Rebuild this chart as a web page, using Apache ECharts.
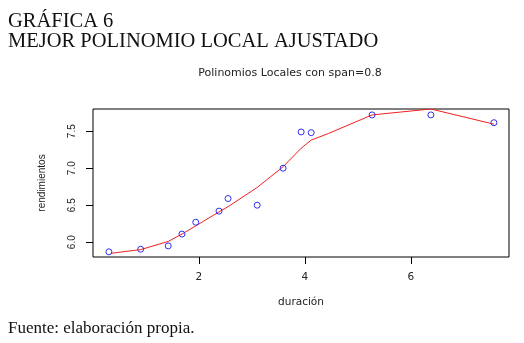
<!DOCTYPE html>
<html>
<head>
<meta charset="utf-8">
<script src="https://cdn.jsdelivr.net/npm/echarts@6/dist/echarts.min.js"></script>
<style type="text/css">
    html, body { margin: 0; padding: 0; background: #ffffff; }
    #grafica { width: 524px; height: 343px; }
</style>
</head>
<body>
<div id="grafica"></div>
<script type="text/javascript">
    // observaciones (duración, rendimientos)
    var duracion = [0.30, 0.90, 1.42, 1.68, 1.94, 2.38, 2.55, 3.10, 3.59, 3.93, 4.12, 5.27, 6.38, 7.57];
    var rendimientos = [5.87, 5.905, 5.95, 6.11, 6.27, 6.42, 6.59, 6.50, 7.00, 7.49, 7.48, 7.72, 7.72, 7.615];
    // curva del polinomio local (span = 0.8)
    var ajusteX = [0.34, 0.90, 1.42, 1.68, 1.94, 2.38, 2.55, 3.10, 3.59, 3.93, 4.12, 4.45, 5.27, 6.38, 7.57];
    var ajusteY = [5.85, 5.90, 6.01, 6.11, 6.22, 6.41, 6.48, 6.74, 7.02, 7.27, 7.38, 7.47, 7.72, 7.80, 7.595];
    var ticksX = [2, 4, 6];
    var ticksY = [6.0, 6.5, 7.0, 7.5];

    var puntos = [], curva = [];
    for (var i = 0; i < duracion.length; i++) {
        puntos.push([duracion[i], rendimientos[i]]);
    }
    for (var j = 0; j < ajusteX.length; j++) {
        curva.push([ajusteX[j], ajusteY[j]]);
    }

    var myChart = echarts.init(document.getElementById('grafica'));
    var option = {
        animation: false,
        backgroundColor: '#ffffff',
        title: [{
            text: 'GRÁFICA 6\nMEJOR POLINOMIO LOCAL AJUSTADO',
            left: 8,
            top: 12,
            padding: 0,
            textStyle: {
                fontFamily: 'Liberation Serif',
                fontWeight: 'normal',
                fontSize: 20.5,
                lineHeight: 20,
                color: '#111'
            }
        }, {
            text: 'Polinomios Locales con span=0.8',
            left: 290,
            textAlign: 'center',
            top: 68,
            padding: 0,
            textStyle: {
                fontFamily: 'DejaVu Sans',
                fontWeight: 'normal',
                fontSize: 11,
                color: '#222'
            }
        }, {
            text: 'Fuente: elaboración propia.',
            left: 8,
            top: 320,
            padding: 0,
            textStyle: {
                fontFamily: 'Liberation Serif',
                fontWeight: 'normal',
                fontSize: 17,
                color: '#111'
            }
        }],
        grid: {
            left: 93,
            right: 15,
            top: 109,
            bottom: 86,
            show: true,
            borderColor: '#000',
            borderWidth: 1,
            backgroundColor: 'transparent'
        },
        xAxis: {
            type: 'value',
            min: 0,
            max: 7.855,
            name: 'duración',
            nameLocation: 'middle',
            nameGap: 40,
            nameTextStyle: { fontFamily: 'DejaVu Sans', fontSize: 10.5, color: '#222' },
            axisLine: { show: false },
            axisTick: { show: true, inside: false, length: 7, customValues: ticksX, lineStyle: { color: '#000' } },
            axisLabel: { margin: 15, customValues: ticksX, fontFamily: 'DejaVu Sans', fontSize: 10.5, color: '#222' },
            splitLine: { show: false }
        },
        yAxis: {
            type: 'value',
            min: 5.8,
            max: 7.8,
            name: 'rendimientos',
            nameLocation: 'middle',
            nameGap: 46,
            nameTextStyle: { fontFamily: 'Liberation Sans', fontSize: 10, color: '#222' },
            axisLine: { show: false },
            axisTick: { show: true, inside: false, length: 7, customValues: ticksY, lineStyle: { color: '#000' } },
            axisLabel: {
                margin: 16,
                rotate: 90,
                customValues: ticksY,
                fontFamily: 'Liberation Sans',
                fontSize: 10,
                color: '#222',
                formatter: function (v) { return v.toFixed(1); }
            },
            splitLine: { show: false }
        },
        series: [{
            name: 'ajuste',
            type: 'line',
            data: curva,
            showSymbol: false,
            symbol: 'none',
            lineStyle: { color: '#f02020', width: 1 },
            z: 2
        }, {
            name: 'observado',
            type: 'scatter',
            data: puntos,
            symbol: 'circle',
            symbolSize: 6,
            itemStyle: { color: 'rgba(255,255,255,0)', borderColor: '#3030f0', borderWidth: 1, opacity: 1 },
            z: 3
        }]
    };
    myChart.setOption(option);
</script>
</body>
</html>
